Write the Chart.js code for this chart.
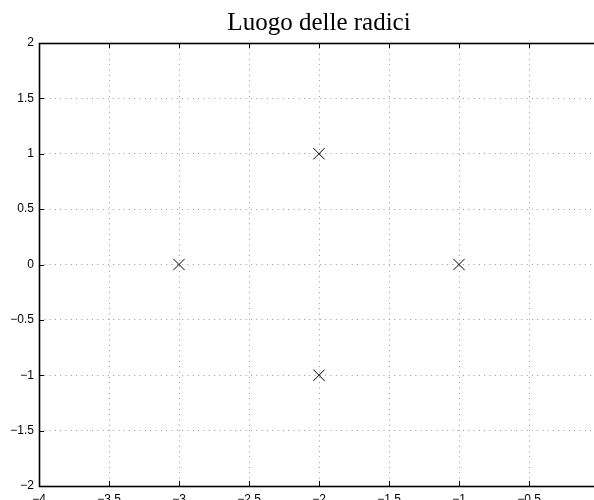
<!DOCTYPE html>
<html>
<head>
<meta charset="utf-8">
<script src="https://cdn.jsdelivr.net/npm/chart.js@4.4.0/dist/chart.umd.min.js"></script>
<style>
  html, body { margin: 0; padding: 0; background: #fff; overflow: hidden; }
  #wrap { width: 594px; height: 500px; overflow: hidden; position: relative; }
  #box { position: absolute; left: 0; top: 0; width: 620px; height: 520px; }
</style>
</head>
<body>
<div id="wrap"><div id="box"><canvas id="rlocus"></canvas></div></div>
<script>
// poles of the system (real, imaginary)
const poleRe = [-3, -2, -2, -1];
const poleIm = [0, 1, -1, 0];

const xTicks = [-4, -3.5, -3, -2.5, -2, -1.5, -1, -0.5, 0];
const yTicks = [-2, -1.5, -1, -0.5, 0, 0.5, 1, 1.5, 2];

const fmt = (v) => (v < 0 ? "\u2212" + Math.abs(v) : String(v));

// MATLAB-like box with inward ticks on all four sides
const frame = {
  id: "frame",
  afterDraw(chart) {
    const { ctx, chartArea: a, scales } = chart;
    const len = 5;
    ctx.save();
    ctx.strokeStyle = "#000";
    ctx.lineWidth = 1;
    ctx.beginPath();
    xTicks.forEach((v) => {
      const px = Math.round(scales.x.getPixelForValue(v)) + 0.5;
      ctx.moveTo(px, a.bottom); ctx.lineTo(px, a.bottom - len);
      ctx.moveTo(px, a.top); ctx.lineTo(px, a.top + len);
    });
    yTicks.forEach((v) => {
      const py = Math.round(scales.y.getPixelForValue(v)) + 0.5;
      ctx.moveTo(a.left, py); ctx.lineTo(a.left + len, py);
      ctx.moveTo(a.right, py); ctx.lineTo(a.right - len, py);
    });
    ctx.stroke();
    ctx.lineWidth = 1.6;
    ctx.strokeRect(Math.round(a.left) + 0.5, Math.round(a.top) + 0.5,
      Math.round(a.right - a.left), Math.round(a.bottom - a.top));
    ctx.restore();
  }
};

new Chart(document.getElementById("rlocus"), {
  type: "scatter",
  data: {
    datasets: [{
      data: poleRe.map((x, i) => ({ x, y: poleIm[i] })),
      pointStyle: "crossRot",
      pointRadius: 8,
      pointHoverRadius: 8,
      borderColor: "#000",
      borderWidth: 1
    }]
  },
  options: {
    responsive: true,
    maintainAspectRatio: false,
    animation: false,
    events: [],
    layout: { padding: { top: 0, right: 21, bottom: 0, left: 0 } },
    plugins: {
      legend: { display: false },
      tooltip: { enabled: false },
      title: {
        display: true,
        fullSize: false,
        text: "Luogo delle radici",
        color: "#000",
        font: { family: "'Liberation Serif', 'DejaVu Serif', serif", size: 25, weight: "normal" },
        padding: { top: 8, bottom: 5 }
      }
    },
    scales: {
      x: {
        type: "linear",
        min: -4,
        max: 0,
        afterBuildTicks: (s) => { s.ticks = xTicks.map((value) => ({ value })); },
        afterFit: (s) => { s.height = 34; },
        grid: { color: "#999", drawTicks: false },
        border: { display: false, dash: [1, 4.3] },
        ticks: {
          color: "#000", padding: 6, maxRotation: 0,
          font: { family: "'Liberation Sans', Arial, sans-serif", size: 12 },
          callback: fmt
        }
      },
      y: {
        min: -2,
        max: 2,
        afterBuildTicks: (s) => { s.ticks = yTicks.map((value) => ({ value })); },
        afterFit: (s) => { s.width = 39; },
        grid: { color: "#999", drawTicks: false },
        border: { display: false, dash: [1, 4.3] },
        ticks: {
          color: "#000", padding: 5,
          font: { family: "'Liberation Sans', Arial, sans-serif", size: 12 },
          callback: fmt
        }
      }
    }
  },
  plugins: [frame]
});
</script>
</body>
</html>
